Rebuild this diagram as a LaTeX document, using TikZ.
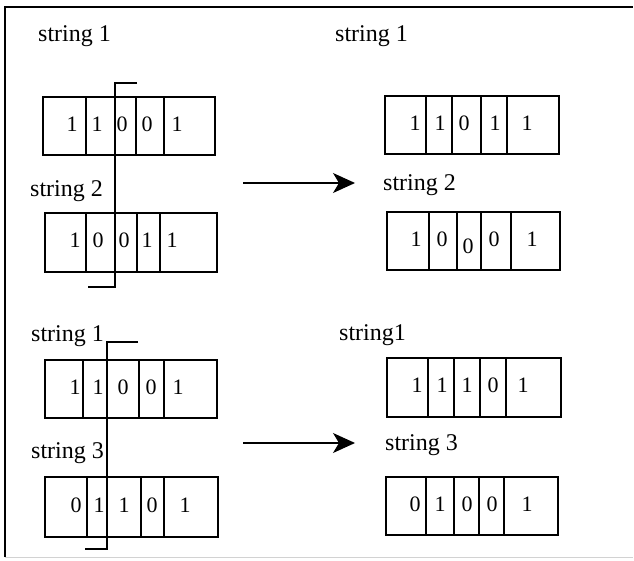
\documentclass[tikz,border=0pt]{standalone}
\usepackage{fontspec}
\setmainfont{Liberation Serif}
\usetikzlibrary{arrows.meta, positioning, calc}

\begin{document}
\begin{tikzpicture}[
    x=1pt, y=-1pt,
    strbox/.style={draw=black, line width=1.6pt, inner sep=0pt},
    bit/.style={font=\fontsize{22}{24}\selectfont, inner sep=0pt},
    lbl/.style={font=\fontsize{24}{26}\selectfont, inner sep=0pt, anchor=west},
    divider/.style={line width=1.2pt},
    cut/.style={line width=1.3pt},
    xover/.style={line width=1.3pt, -{Stealth[length=22pt, width=20pt, inset=6pt]}},
]
\useasboundingbox (0,0) rectangle (634,561);

% Frame
\draw[line width=1.2pt] (5,557) -- (5,7) -- (633,7);
\draw[gray!35, line width=0.8pt] (5,557) -- (633,557);

% Crossover 1: before (top left)
\node[lbl] (tl1lbl) at (38,36) {string 1};
\node[strbox, minimum width=172pt, minimum height=58pt] (tl1) at (129,126) {};
\foreach \x in {86,136,164} {
    \draw[divider] (\x,97) -- (\x,155);
}
\foreach \x/\b [count=\i] in {72/1,97/1,122/0,147/0,177/1} {
    \node[bit] (tl1b\i) at (\x,124) {\b};
}

\node[lbl] (tl2lbl) at (30,191) {string 2};
\node[strbox, minimum width=172pt, minimum height=59pt] (tl2) at (131,242.5) {};
\foreach \x in {86,137,160} {
    \draw[divider] (\x,213) -- (\x,272);
}
\foreach \x/\b [count=\i] in {75/1,98/0,124/0,147/1,172/1} {
    \node[bit] (tl2b\i) at (\x,240) {\b};
}

% Crossing site 1
\coordinate (c1a) at (137,83);
\coordinate (c1b) at (115,83);
\coordinate (c1c) at (115,287);
\coordinate (c1d) at (88,287);
\draw[cut] (c1a) -- (c1b) -- (c1c) -- (c1d);

% Crossover 1: after (top right)
\node[lbl] (tr1lbl) at (335,36) {string 1};
\node[strbox, minimum width=174pt, minimum height=58pt] (tr1) at (472,125) {};
\foreach \x in {426,452,481,507} {
    \draw[divider] (\x,96) -- (\x,154);
}
\foreach \x/\b [count=\i] in {415/1,440/1,464/0,495/1,527/1} {
    \node[bit] (tr1b\i) at (\x,123) {\b};
}

\node[lbl] (tr2lbl) at (383,185) {string 2};
\node[strbox, minimum width=173pt, minimum height=58pt] (tr2) at (473.5,241) {};
\foreach \x in {429,457,481,511} {
    \draw[divider] (\x,212) -- (\x,270);
}
\foreach \x/\b/\y [count=\i] in {416/1/239,442/0/239,468/0/246,494/0/239,532/1/239} {
    \node[bit] (tr2b\i) at (\x,\y) {\b};
}

% Arrow 1
\coordinate (a1s) at (243,183);
\coordinate (a1e) at (355,183);
\draw[xover] (a1s) -- (a1e);

% Crossover 2: before (bottom left)
\node[lbl] (bl1lbl) at (31,336) {string 1};
\node[strbox, minimum width=172pt, minimum height=58pt] (bl1) at (131,389) {};
\foreach \x in {83,139,164} {
    \draw[divider] (\x,360) -- (\x,418);
}
\foreach \x/\b [count=\i] in {75/1,98/1,123/0,151/0,178/1} {
    \node[bit] (bl1b\i) at (\x,387) {\b};
}

\node[lbl] (bl2lbl) at (31,453) {string 3};
\node[strbox, minimum width=173pt, minimum height=60pt] (bl2) at (131.5,507) {};
\foreach \x in {87,141,164} {
    \draw[divider] (\x,477) -- (\x,537);
}
\foreach \x/\b [count=\i] in {76/0,99/1,124/1,152/0,185/1} {
    \node[bit] (bl2b\i) at (\x,505) {\b};
}

% Crossing site 2
\coordinate (c2a) at (138,342);
\coordinate (c2b) at (107,342);
\coordinate (c2c) at (107,549);
\coordinate (c2d) at (85,549);
\draw[cut] (c2a) -- (c2b) -- (c2c) -- (c2d);

% Crossover 2: after (bottom right)
\node[lbl] (br1lbl) at (339,335) {string1};
\node[strbox, minimum width=174pt, minimum height=59pt] (br1) at (474,387.5) {};
\foreach \x in {428,454,480,506} {
    \draw[divider] (\x,358) -- (\x,417);
}
\foreach \x/\b [count=\i] in {417/1,442/1,467/1,493/0,523/1} {
    \node[bit] (br1b\i) at (\x,385) {\b};
}

\node[lbl] (br2lbl) at (385,445) {string 3};
\node[strbox, minimum width=172pt, minimum height=58pt] (br2) at (472,506) {};
\foreach \x in {426,454,479,504} {
    \draw[divider] (\x,477) -- (\x,535);
}
\foreach \x/\b [count=\i] in {415/0,440/1,467/0,492/0,527/1} {
    \node[bit] (br2b\i) at (\x,504) {\b};
}

% Arrow 2
\coordinate (a2s) at (243,443);
\coordinate (a2e) at (355,443);
\draw[xover] (a2s) -- (a2e);

\end{tikzpicture}
\end{document}
